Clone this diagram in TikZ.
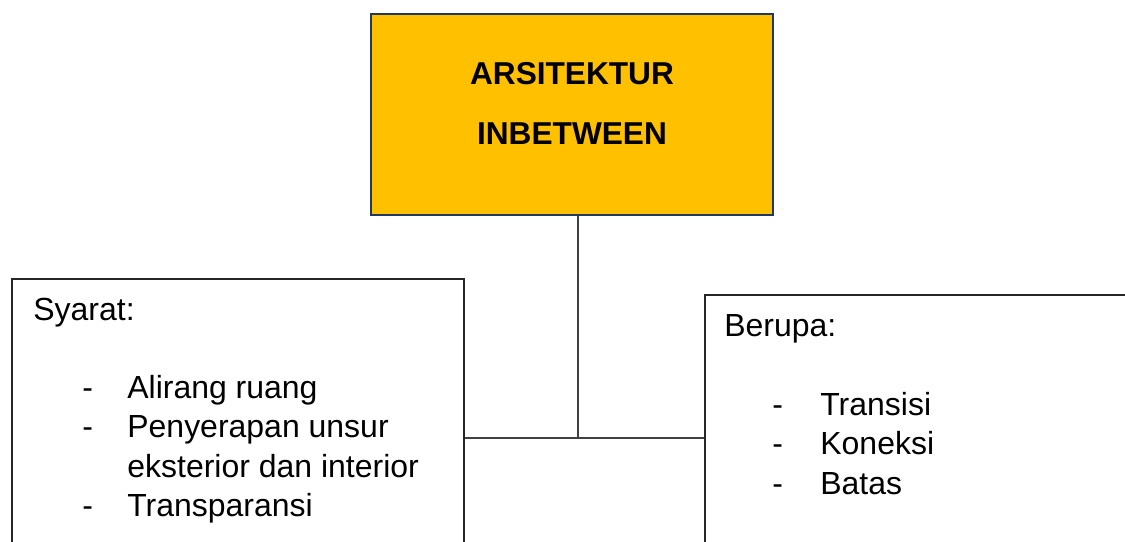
\documentclass[tikz,border=0pt]{standalone}
\usepackage{fontspec}
\setmainfont{Liberation Sans}
\usetikzlibrary{positioning}
\definecolor{amber}{HTML}{FFC000}
\definecolor{navy}{HTML}{203864}
\definecolor{linegray}{HTML}{404040}

\begin{document}
\begin{tikzpicture}[
  font=\fontsize{18.2}{21}\selectfont,
  titlebox/.style={draw=navy, fill=amber, line width=1.2pt, minimum width=8.04cm, minimum height=4.02cm, inner sep=0pt},
  listbox/.style={draw=black!85, line width=1.1pt, fill=white, inner sep=0pt, anchor=north west},
  link/.style={draw=linegray, line width=0.6pt},
  head/.style={anchor=base west, inner sep=0pt},
  lab/.style={anchor=base west, inner sep=0pt}
]
\clip (0,0) rectangle (22.5,10.82);

\node[titlebox] (top) at (11.44,8.53) {};
\node[anchor=base, font=\fontsize{18}{20}\selectfont\bfseries] (t1) at (11.44,9.13) {ARSITEKTUR};
\node[anchor=base, font=\fontsize{18}{20}\selectfont\bfseries] (t2) at (11.44,7.93) {INBETWEEN};

\node[listbox, minimum width=9.04cm, minimum height=6.5cm] (syarat) at (0.22,5.26) {};
\node[listbox, minimum width=9.5cm, minimum height=6.2cm] (berupa) at (14.08,4.94) {};

% connectors
\coordinate (junction) at (11.56,2.06);
\draw[link] (top.south -| junction) -- (junction);
\draw[link] (junction -| syarat.east) -- (junction -| berupa.west);

% left list
\node[head] (syarathead) at (0.66,4.42) {Syarat:};
\foreach \y/\dash/\entry in {2.86/-/Alirang ruang, 2.08/-/Penyerapan unsur, 1.28//eksterior dan interior, 0.50/-/Transparansi}{
  \node[lab] at (1.64,\y) {\dash};
  \node[lab] at (2.54,\y) {\entry};
}

% right list
\node[head] (berupahead) at (14.48,4.10) {Berupa:};
\foreach \y/\entry in {2.52/Transisi, 1.74/Koneksi, 0.94/Batas}{
  \node[lab] at (15.44,\y) {-};
  \node[lab] at (16.40,\y) {\entry};
}
\end{tikzpicture}
\end{document}
